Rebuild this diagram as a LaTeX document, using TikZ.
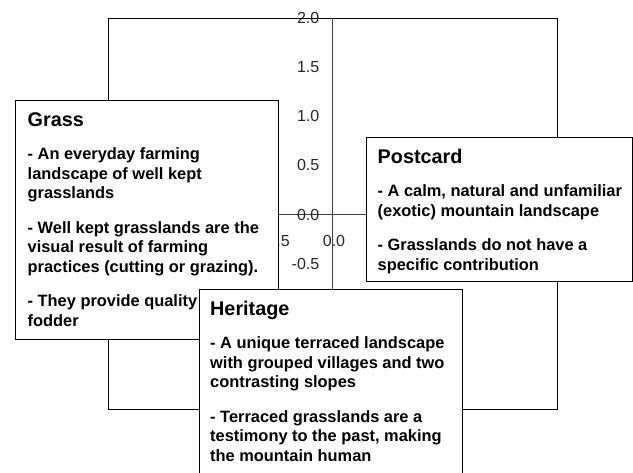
\documentclass[tikz,border=0pt]{standalone}
\usepackage{fontspec}
\setmainfont{Liberation Sans}
\newcommand{\paneltitle}{\fontsize{19.8}{19.5}\selectfont\bfseries}
\newcommand{\panelbody}{\fontsize{16.4}{19.5}\selectfont\bfseries}
\tikzset{
  frameline/.style={line width=1.1pt, draw=black},
  axisline/.style={line width=1pt, draw=black!75},
  ticklabel/.style={font=\fontsize{16}{16}\selectfont, inner sep=0pt, text=black!85},
  panel/.style={draw=black, line width=1.1pt, fill=white, inner sep=0pt, anchor=north west},
  paneltext/.style={inner sep=0pt, anchor=base west},
}
\begin{document}
\begin{tikzpicture}[x=1pt, y=-1pt]
\useasboundingbox (0,0) rectangle (633,473);
\clip (0,0) rectangle (633,473);
% plot frame and axes
\node[frameline, draw, inner sep=0pt, minimum width=449pt, minimum height=391pt, anchor=north west] (frame) at (108,18) {};
\coordinate (ytop) at (332,18);
\coordinate (ybot) at (332,409);
\coordinate (xleft) at (108,214.5);
\coordinate (xright) at (557,214.5);
\draw[axisline] (ytop) -- (ybot);
\draw[axisline] (xleft) -- (xright);
% tick labels
\node[ticklabel, anchor=east] (y20) at (319.5,18) {2.0};
\node[ticklabel, anchor=east] (y15) at (319.5,67) {1.5};
\node[ticklabel, anchor=east] (y10) at (319.5,116) {1.0};
\node[ticklabel, anchor=east] (y05) at (319.5,165) {0.5};
\node[ticklabel, anchor=east] (y00) at (319.5,214.5) {0.0};
\node[ticklabel, anchor=east] (ym05) at (319.5,264) {-0.5};
\node[ticklabel, anchor=east] (xm05) at (290,241) {-0.5};
\node[ticklabel] (x00) at (334,241) {0.0};
% Grass panel
\node[panel, minimum width=263pt, minimum height=239pt] (grassbox) at (15,100) {};
\node[paneltext] (grasstext) at (27.5,127) {\parbox[t]{250pt}{%
  \paneltitle Grass\par\vspace{13.5pt}%
  \panelbody - An everyday farming\\landscape of well kept\\grasslands\par\vspace{15pt}%
  - Well kept grasslands are the\\visual result of farming\\practices (cutting or grazing).\par\vspace{15pt}%
  - They provide quality\\fodder}};
% Postcard panel
\node[panel, minimum width=266pt, minimum height=144pt] (postbox) at (366,137) {};
\node[paneltext] (posttext) at (377.5,164) {\parbox[t]{250pt}{%
  \paneltitle Postcard\par\vspace{13.5pt}%
  \panelbody - A calm, natural and unfamiliar\\(exotic) mountain landscape\par\vspace{15pt}%
  - Grasslands do not have a\\specific contribution}};
% Heritage panel
\node[panel, minimum width=263pt, minimum height=200pt] (herbox) at (199,289) {};
\node[paneltext] (hertext) at (210,316) {\parbox[t]{250pt}{%
  \paneltitle Heritage\par\vspace{13.5pt}%
  \panelbody - A unique terraced landscape\\with grouped villages and two\\contrasting slopes\par\vspace{15pt}%
  - Terraced grasslands are a\\testimony to the past, making\\the mountain human}};
\end{tikzpicture}
\end{document}
